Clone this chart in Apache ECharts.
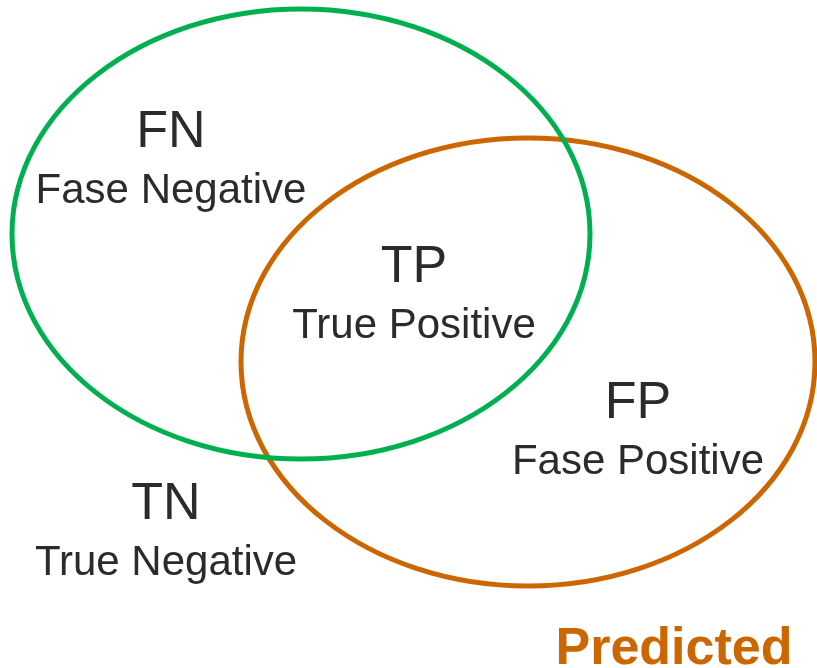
<!DOCTYPE html>
<html>
<head>
<meta charset="utf-8">
<script src="https://cdn.jsdelivr.net/npm/echarts@6/dist/echarts.min.js"></script>
<style>
  html, body { margin: 0; padding: 0; background: #fff; }
  #main { width: 817px; height: 668px; }
</style>
</head>
<body>
<div id="main"></div>
<script>
// sets: drawn first to last (green goes on top)
const setNames = ['Predicted', 'Actual'];
const setCenterX = [528, 301];
const setCenterY = [362, 234];
const setRadiusX = [287, 289];
const setRadiusY = [224, 225];
const setColors = ['#CC6600', '#00B050'];

// regions of the diagram
const regionCodes = ['FN', 'TP', 'FP', 'TN'];
const regionNames = ['Fase Negative', 'True Positive', 'Fase Positive', 'True Negative'];
const regionX = [171, 414, 638, 166];
const regionY = [133, 268, 404, 505];

// set caption
const captionText = ['Predicted'];
const captionX = [674];
const captionY = [650];

const font = '"Liberation Sans", Arial, sans-serif';

var myChart = echarts.init(document.getElementById('main'));

var option = {
  animation: false,
  grid: {left: 0, right: 0, top: 0, bottom: 0},
  xAxis: {type: 'value', min: 0, max: 817, show: false},
  yAxis: {type: 'value', min: 0, max: 668, inverse: true, show: false},
  series: [
    {
      type: 'custom',
      clip: false,
      data: setNames.map((name, i) => [setCenterX[i], setCenterY[i], setRadiusX[i], setRadiusY[i]]),
      renderItem: (params, api) => {
        const c = api.coord([api.value(0), api.value(1)]);
        const s = api.size([api.value(2), api.value(3)]);
        return {
          type: 'ellipse',
          shape: {cx: c[0], cy: c[1], rx: s[0], ry: s[1]},
          style: {fill: 'none', stroke: setColors[params.dataIndex], lineWidth: 5}
        };
      }
    },
    {
      type: 'custom',
      clip: false,
      data: regionCodes.map((code, i) => [regionX[i], regionY[i]]),
      renderItem: (params, api) => {
        const c = api.coord([api.value(0), api.value(1)]);
        const i = params.dataIndex;
        return {
          type: 'group',
          children: [
            {
              type: 'text',
              x: c[0], y: c[1],
              style: {
                text: regionCodes[i], fill: '#2b2b2b', font: '52px ' + font,
                align: 'center', verticalAlign: 'middle'
              }
            },
            {
              type: 'text',
              x: c[0], y: c[1] + 58,
              style: {
                text: regionNames[i], fill: '#2b2b2b', font: '42px ' + font,
                align: 'center', verticalAlign: 'middle'
              }
            }
          ]
        };
      }
    },
    {
      type: 'custom',
      clip: false,
      data: captionText.map((t, i) => [captionX[i], captionY[i]]),
      renderItem: (params, api) => {
        const c = api.coord([api.value(0), api.value(1)]);
        return {
          type: 'text',
          x: c[0], y: c[1],
          style: {
            text: captionText[params.dataIndex], fill: '#CC6600', font: 'bold 52px ' + font,
            align: 'center', verticalAlign: 'middle'
          }
        };
      }
    }
  ]
};

myChart.setOption(option);
</script>
</body>
</html>
